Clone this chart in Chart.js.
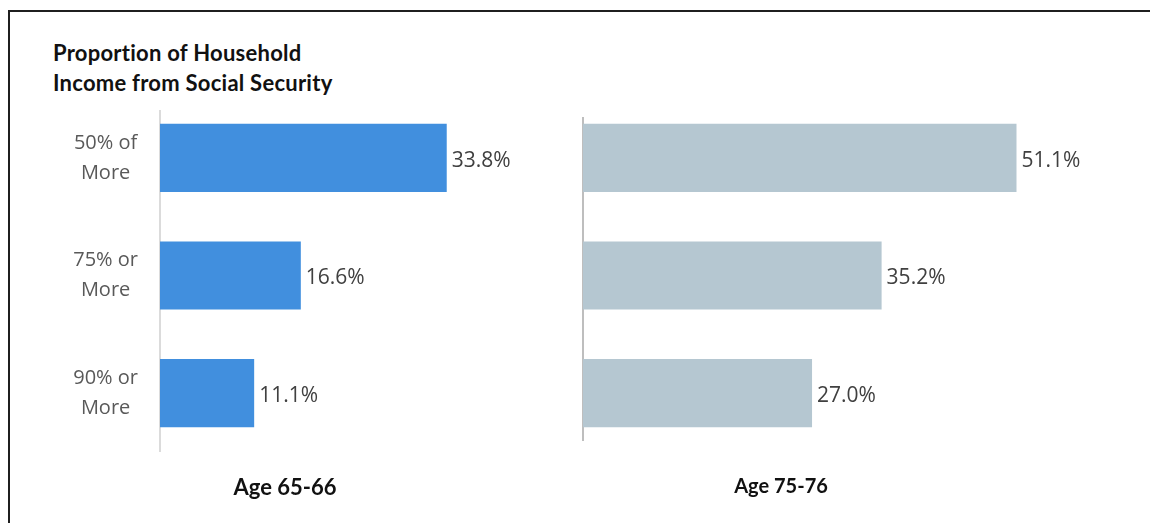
<!DOCTYPE html>
<html>
<head>
<meta charset="utf-8">
<script src="https://cdn.jsdelivr.net/npm/chart.js@4/dist/chart.umd.min.js"></script>
<style>
  body { margin: 0; background: #fff; width: 1150px; height: 523px; overflow: hidden; position: relative; }
  .frame { position: absolute; left: 8px; top: 10px; width: 1150px; height: 520px;
           border-top: 2px solid #1f1f1f; border-left: 2px solid #1f1f1f; }
  canvas { position: absolute; left: 0; top: 0; }
  .title { position: absolute; left: 53px; top: 38px; font: bold 22px Lato, sans-serif;
           letter-spacing: 0.25px; font-variant-ligatures: none; line-height: 30px; color: #111; }
  .group { position: absolute; top: 473px; font-family: Lato, sans-serif; font-weight: bold; color: #111;
           transform: translateX(-50%); white-space: nowrap; font-variant-ligatures: none; }
</style>
</head>
<body>
<div class="frame"></div>
<div class="title">Proportion of Household<br>Income from Social Security</div>
<canvas id="young" width="1150" height="523"></canvas>
<canvas id="old" width="1150" height="523"></canvas>
<div class="group" style="left:285px; font-size:22px">Age 65-66</div>
<div class="group" style="left:781px; font-size:20px">Age 75-76</div>

<script>
const shares = [["50% of", "More"], ["75% or", "More"], ["90% or", "More"]];
const age6566 = [33.8, 16.6, 11.1];
const age7576 = [51.1, 35.2, 27.0];
const xMax = 60;

// percentage text at the end of each bar
const barValues = {
  id: "barValues",
  afterDatasetsDraw(chart) {
    const ctx = chart.ctx;
    const meta = chart.getDatasetMeta(0);
    const values = chart.data.datasets[0].data;
    ctx.save();
    ctx.font = "21px 'Open Sans', sans-serif";
    ctx.fillStyle = "#404040";
    ctx.textBaseline = "middle";
    meta.data.forEach((bar, i) => {
      ctx.fillText(values[i].toFixed(1) + "%", bar.x + 5, bar.y + 3);
    });
    ctx.restore();
  },
};

// vertical baseline next to the category labels
const baseLine = {
  id: "baseLine",
  beforeDatasetsDraw(chart, args, opts) {
    const ctx = chart.ctx;
    const x = chart.chartArea.left;
    ctx.save();
    ctx.strokeStyle = opts.color;
    ctx.lineWidth = 1.5;
    ctx.beginPath();
    ctx.moveTo(x, opts.from);
    ctx.lineTo(x, opts.to);
    ctx.stroke();
    ctx.restore();
  },
};

function makeChart(id, values, color, withLabels, padLeft, line) {
  const axisWidth = withLabels ? 160 : 0;
  return new Chart(document.getElementById(id), {
    type: "bar",
    data: {
      labels: shares,
      datasets: [{
        data: values,
        backgroundColor: color,
        categoryPercentage: 1,
        barPercentage: 0.58,
      }],
    },
    options: {
      indexAxis: "y",
      responsive: false,
      animation: false,
      layout: { padding: { left: padLeft, right: 1150 - padLeft - axisWidth - 509, top: 99, bottom: 71 } },
      scales: {
        x: { display: false, min: 0, max: xMax },
        y: {
          display: withLabels,
          border: { display: false },
          grid: { display: false, drawTicks: false },
          ticks: {
            crossAlign: "center",
            padding: 22,
            color: "#595959",
            font: { family: "'Open Sans', sans-serif", size: 20, lineHeight: 1.5 },
          },
          afterFit(scale) { scale.width = axisWidth; },
        },
      },
      plugins: {
        legend: { display: false },
        tooltip: { enabled: false },
        baseLine: line,
      },
    },
    plugins: [barValues, baseLine],
  });
}

makeChart("young", age6566, "#418fde", true, 0, { color: "#cfcfcf", from: 110, to: 452 });
makeChart("old", age7576, "#b5c7d1", false, 583, { color: "#a8a8a8", from: 117, to: 441 });
</script>
</body>
</html>
